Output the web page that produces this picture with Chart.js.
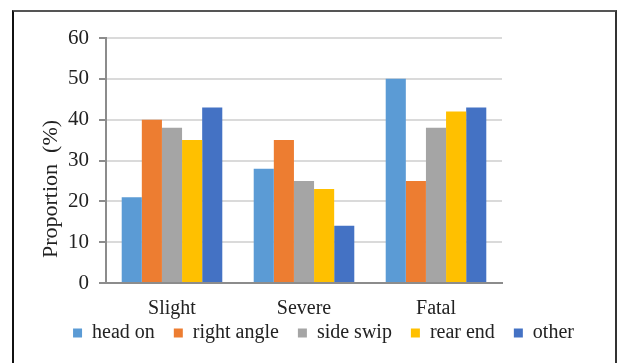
<!DOCTYPE html>
<html>
<head>
<meta charset="utf-8">
<script src="https://cdn.jsdelivr.net/npm/chart.js@4.4.1/dist/chart.umd.min.js"></script>
<style>
  html, body { margin: 0; padding: 0; background: #fff; overflow: hidden; }
  #wrap { position: relative; width: 619px; height: 363px; }
  #myChart { position: absolute; left: 0; top: 0; }
  .frame {
    position: absolute; left: 12px; top: 10px; width: 601px; height: 400px;
    border-left: 2px solid #111; border-top: 2px solid #555; border-right: 2px solid #333;
    pointer-events: none;
  }
</style>
</head>
<body>
<div id="wrap">
  <canvas id="myChart" width="619" height="363"></canvas>
  <div class="frame"></div>
</div>
<script>
// Chart data
const categories = ['Slight', 'Severe', 'Fatal'];
const seriesNames = ['head on', 'right angle', 'side swip', 'rear end', 'other'];
const headOn = [21, 28, 50];
const rightAngle = [40, 35, 25];
const sideSwip = [38, 25, 38];
const rearEnd = [35, 23, 42];
const other = [43, 14, 43];
const yTicks = [0, 10, 20, 30, 40, 50, 60];
const yTitle = 'Proportion  (%)';

const colors = ['#5B9BD5', '#ED7D31', '#A5A5A5', '#FFC000', '#4472C4'];
const textColor = '#222';
const axisColor = '#8c8c8c';
const serif = '"Liberation Serif", "Times New Roman", serif';

window.addEventListener('DOMContentLoaded', event => {
    const ctx = document.getElementById('myChart').getContext('2d');

    const values = [headOn, rightAngle, sideSwip, rearEnd, other];
    const datasets = seriesNames.map((name, i) => ({
        label: name,
        data: values[i],
        backgroundColor: colors[i],
        borderWidth: 0,
        categoryPercentage: 0.762,
        barPercentage: 1.0
    }));

    // y-axis title drawn by hand so it sits where the original one does
    const yTitlePlugin = {
        id: 'yTitle',
        afterLayout(chart) {
            // the category labels run into the legend row, so don't clip them to the x box
            chart.scales.x.bottom = chart.scales.x.top + 45;
        },
        afterDraw(chart) {
            const c = chart.ctx;
            c.save();
            c.translate(51, 189);
            c.rotate(-Math.PI / 2);
            c.font = '22px ' + serif;
            c.fillStyle = textColor;
            c.textAlign = 'center';
            c.textBaseline = 'middle';
            c.fillText(yTitle, 0, 0);
            c.restore();
        }
    };

    new Chart(ctx, {
        type: 'bar',
        data: { labels: categories, datasets: datasets },
        plugins: [yTitlePlugin],
        options: {
            responsive: false,
            animation: false,
            layout: { padding: { left: 28, top: 38, right: 0, bottom: 10 } },
            plugins: {
                tooltip: { enabled: false },
                legend: {
                    position: 'bottom',
                    labels: {
                        boxWidth: 9,
                        boxHeight: 9,
                        padding: 19,
                        color: textColor,
                        font: { family: serif, size: 20 }
                    }
                }
            },
            scales: {
                x: {
                    grid: { display: false, drawTicks: false },
                    border: { display: true, color: axisColor, width: 2 },
                    ticks: { color: textColor, padding: 14, font: { family: serif, size: 20 } },
                    afterFit: scale => { scale.height = 21; }
                },
                y: {
                    min: 0,
                    max: 60,
                    afterBuildTicks: scale => { scale.ticks = yTicks.map(v => ({ value: v })); },
                    grid: {
                        color: c => c.tick && c.tick.value === 0 ? axisColor : '#dadada',
                        lineWidth: 2,
                        tickColor: axisColor,
                        tickLength: 7
                    },
                    border: { display: true, color: axisColor, width: 2 },
                    ticks: { color: textColor, padding: 10, font: { family: serif, size: 21 } },
                    afterFit: scale => { scale.width = 78; }
                },
                // empty axis on the right, only to keep the plot the same width as the original
                yRight: {
                    position: 'right',
                    grid: { display: false, drawTicks: false },
                    border: { display: false },
                    ticks: { display: false },
                    afterFit: scale => { scale.width = 117; }
                }
            }
        }
    });
});
</script>
</body>
</html>
